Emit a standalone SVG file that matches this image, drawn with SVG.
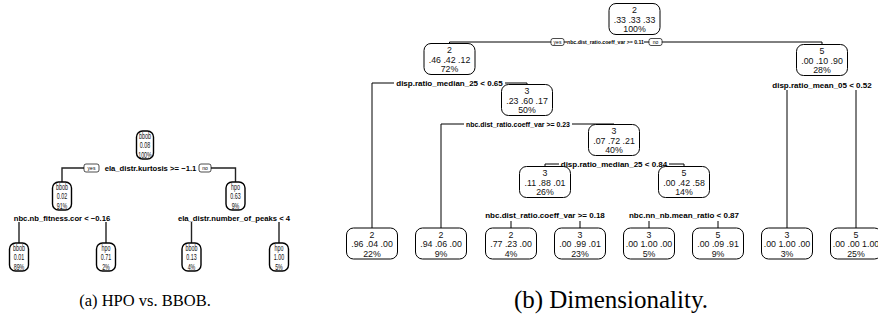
<svg xmlns="http://www.w3.org/2000/svg" width="878" height="324" viewBox="0 0 878 324">
<style>
.bx{fill:#fff;stroke:#000;stroke-width:1}
.lb{fill:#fff;stroke:#000;stroke-width:1.4}
.t{font-family:"Liberation Sans",Arial,sans-serif;font-size:8.8px;fill:#111;text-anchor:middle}
.lt{font-family:"Liberation Sans",Arial,sans-serif;font-size:8.6px;fill:#111;text-anchor:middle}
.s{font-family:"Liberation Sans",Arial,sans-serif;font-size:8px;font-weight:bold;fill:#000;text-anchor:middle}
.sl{font-family:"Liberation Sans",Arial,sans-serif;font-size:7.7px;font-weight:bold;fill:#000;text-anchor:middle}
.yn{fill:#fff;stroke:#000;stroke-width:0.7}
.ynt{font-family:"Liberation Sans",Arial,sans-serif;font-size:5px;fill:#000;text-anchor:middle}
.c{fill:none;stroke:#000;stroke-width:1}
.cl{fill:none;stroke:#222;stroke-width:1.4}
.cap{font-family:"Liberation Serif","Times New Roman",serif;fill:#000;text-anchor:middle}
</style>

<g id="left-connectors">
<path class="cl" d="M84 168 H62 V182"/>
<path class="cl" d="M211 168 H235.5 V182"/>
<path class="cl" d="M19 222 V243"/>
<path class="cl" d="M106 222 V243"/>
<path class="cl" d="M191.5 222 V243"/>
<path class="cl" d="M279 222 V243"/>
</g>

<g id="left-splits">
<rect class="yn" x="84" y="164" width="15" height="8" rx="2"/>
<text class="ynt" x="91.5" y="170">yes</text>
<text class="sl" x="150.5" y="171">ela_distr.kurtosis &gt;= −1.1</text>
<rect class="yn" x="199" y="164" width="12" height="8" rx="2"/>
<text class="ynt" x="205" y="170">no</text>
<text class="sl" x="62" y="221">nbc.nb_fitness.cor &lt; −0.16</text>
<text class="sl" x="234" y="221">ela_distr.number_of_peaks &lt; 4</text>
</g>

<g id="L1"><rect class="lb" x="136.5" y="131" width="17" height="28" rx="6"/>
<g transform="translate(145 0) scale(0.62 1)"><text class="lt" x="0" y="139.3">bbob</text><text class="lt" x="0" y="148.5">0.08</text><text class="lt" x="0" y="157.7">100%</text></g></g>
<g id="L2"><rect class="lb" x="52.5" y="182" width="19" height="28" rx="6"/>
<g transform="translate(62 0) scale(0.62 1)"><text class="lt" x="0" y="190.3">bbob</text><text class="lt" x="0" y="199.5">0.02</text><text class="lt" x="0" y="208.7">91%</text></g></g>
<g id="L3"><rect class="lb" x="226" y="182" width="19" height="28" rx="6"/>
<g transform="translate(235.5 0) scale(0.62 1)"><text class="lt" x="0" y="190.3">hpo</text><text class="lt" x="0" y="199.5">0.63</text><text class="lt" x="0" y="208.7">9%</text></g></g>
<g id="L4"><rect class="lb" x="9.5" y="243" width="19" height="28" rx="6"/>
<g transform="translate(19 0) scale(0.62 1)"><text class="lt" x="0" y="251.3">bbob</text><text class="lt" x="0" y="260.5">0.01</text><text class="lt" x="0" y="269.7">89%</text></g></g>
<g id="L5"><rect class="lb" x="96.5" y="243" width="19" height="28" rx="6"/>
<g transform="translate(106 0) scale(0.62 1)"><text class="lt" x="0" y="251.3">hpo</text><text class="lt" x="0" y="260.5">0.71</text><text class="lt" x="0" y="269.7">2%</text></g></g>
<g id="L6"><rect class="lb" x="182" y="243" width="19" height="28" rx="6"/>
<g transform="translate(191.5 0) scale(0.62 1)"><text class="lt" x="0" y="251.3">bbob</text><text class="lt" x="0" y="260.5">0.13</text><text class="lt" x="0" y="269.7">4%</text></g></g>
<g id="L7"><rect class="lb" x="269.5" y="243" width="19" height="28" rx="6"/>
<g transform="translate(279 0) scale(0.62 1)"><text class="lt" x="0" y="251.3">hpo</text><text class="lt" x="0" y="260.5">1.00</text><text class="lt" x="0" y="269.7">5%</text></g></g>

<g id="right-connectors">
<path class="c" d="M551 42 H449.5 V43.5"/>
<path class="c" d="M662 42 H822 V44.5"/>
<path class="c" d="M564 42 H567"/>
<path class="c" d="M644 42 H649"/>
<path class="c" d="M394 83 H372 V228"/>
<path class="c" d="M505 83 H527 V84.5"/>
<path class="c" d="M787 90 V228"/>
<path class="c" d="M856 90 V228"/>
<path class="c" d="M464 124 H441 V228"/>
<path class="c" d="M572 124 H614 V124.5"/>
<path class="c" d="M559 164 H545 V166.5"/>
<path class="c" d="M669 164 H684 V166.5"/>
<path class="c" d="M511 221 V228"/>
<path class="c" d="M580 221 V228"/>
<path class="c" d="M649 221 V228"/>
<path class="c" d="M718 221 V228"/>
</g>

<g id="right-splits">
<rect class="yn" x="551" y="38.5" width="13" height="7" rx="2"/>
<text class="ynt" x="557.5" y="44">yes</text>
<text class="s" x="605.5" y="44.3" style="font-size:5.6px" textLength="77" lengthAdjust="spacingAndGlyphs">nbc.dist_ratio.coeff_var &gt;= 0.11</text>
<rect class="yn" x="649" y="38.5" width="13" height="7" rx="2"/>
<text class="ynt" x="655.5" y="44">no</text>
<text class="s" x="449.5" y="85.5">disp.ratio_median_25 &lt; 0.65</text>
<text class="s" x="822" y="88">disp.ratio_mean_05 &lt; 0.52</text>
<text class="s" x="518" y="127" style="font-size:7.2px" textLength="104" lengthAdjust="spacingAndGlyphs">nbc.dist_ratio.coeff_var &gt;= 0.23</text>
<text class="s" x="614" y="167">disp.ratio_median_25 &lt; 0.84</text>
<text class="s" x="545" y="218">nbc.dist_ratio.coeff_var &gt;= 0.18</text>
<text class="s" x="684" y="218">nbc.nn_nb.mean_ratio &lt; 0.87</text>
</g>

<g id="R1"><rect class="bx" x="609" y="3.5" width="51" height="31" rx="7"/>
<text class="t" x="634.5" y="13">2</text><text class="t" x="634.5" y="22.5">.33 .33 .33</text><text class="t" x="634.5" y="32">100%</text></g>
<g id="R2"><rect class="bx" x="424" y="43.5" width="51" height="31" rx="7"/>
<text class="t" x="449.5" y="53">2</text><text class="t" x="449.5" y="62.5">.46 .42 .12</text><text class="t" x="449.5" y="72">72%</text></g>
<g id="R3"><rect class="bx" x="796.5" y="44.5" width="51" height="31" rx="7"/>
<text class="t" x="822" y="54">5</text><text class="t" x="822" y="63.5">.00 .10 .90</text><text class="t" x="822" y="73">28%</text></g>
<g id="R4"><rect class="bx" x="501.5" y="84.5" width="51" height="31" rx="7"/>
<text class="t" x="527" y="94">3</text><text class="t" x="527" y="103.5">.23 .60 .17</text><text class="t" x="527" y="113">50%</text></g>
<g id="R5"><rect class="bx" x="588.5" y="124.5" width="51" height="31" rx="7"/>
<text class="t" x="614" y="134">3</text><text class="t" x="614" y="143.5">.07 .72 .21</text><text class="t" x="614" y="153">40%</text></g>
<g id="R6"><rect class="bx" x="519.5" y="166.5" width="51" height="31" rx="7"/>
<text class="t" x="545" y="176">3</text><text class="t" x="545" y="185.5">.11 .88 .01</text><text class="t" x="545" y="195">26%</text></g>
<g id="R7"><rect class="bx" x="658.5" y="166.5" width="51" height="31" rx="7"/>
<text class="t" x="684" y="176">5</text><text class="t" x="684" y="185.5">.00 .42 .58</text><text class="t" x="684" y="195">14%</text></g>

<g id="R8"><rect class="bx" x="346.5" y="228" width="51" height="31" rx="7"/>
<text class="t" x="372" y="237.5">2</text><text class="t" x="372" y="247">.96 .04 .00</text><text class="t" x="372" y="256.5">22%</text></g>
<g id="R9"><rect class="bx" x="415.5" y="228" width="51" height="31" rx="7"/>
<text class="t" x="441" y="237.5">2</text><text class="t" x="441" y="247">.94 .06 .00</text><text class="t" x="441" y="256.5">9%</text></g>
<g id="R10"><rect class="bx" x="485.5" y="228" width="51" height="31" rx="7"/>
<text class="t" x="511" y="237.5">2</text><text class="t" x="511" y="247">.77 .23 .00</text><text class="t" x="511" y="256.5">4%</text></g>
<g id="R11"><rect class="bx" x="554.5" y="228" width="51" height="31" rx="7"/>
<text class="t" x="580" y="237.5">3</text><text class="t" x="580" y="247">.00 .99 .01</text><text class="t" x="580" y="256.5">23%</text></g>
<g id="R12"><rect class="bx" x="623.5" y="228" width="51" height="31" rx="7"/>
<text class="t" x="649" y="237.5">3</text><text class="t" x="649" y="247">.00 1.00 .00</text><text class="t" x="649" y="256.5">5%</text></g>
<g id="R13"><rect class="bx" x="692.5" y="228" width="51" height="31" rx="7"/>
<text class="t" x="718" y="237.5">5</text><text class="t" x="718" y="247">.00 .09 .91</text><text class="t" x="718" y="256.5">9%</text></g>
<g id="R14"><rect class="bx" x="761.5" y="228" width="51" height="31" rx="7"/>
<text class="t" x="787" y="237.5">3</text><text class="t" x="787" y="247">.00 1.00 .00</text><text class="t" x="787" y="256.5">3%</text></g>
<g id="R15"><rect class="bx" x="830.5" y="228" width="51" height="31" rx="7"/>
<text class="t" x="856" y="237.5">5</text><text class="t" x="856" y="247">.00 .00 1.00</text><text class="t" x="856" y="256.5">25%</text></g>

<text class="cap" x="145" y="306" style="font-size:16.5px">(a) HPO vs. BBOB.</text>
<text class="cap" x="611" y="308" style="font-size:25px">(b) Dimensionality.</text>
</svg>
